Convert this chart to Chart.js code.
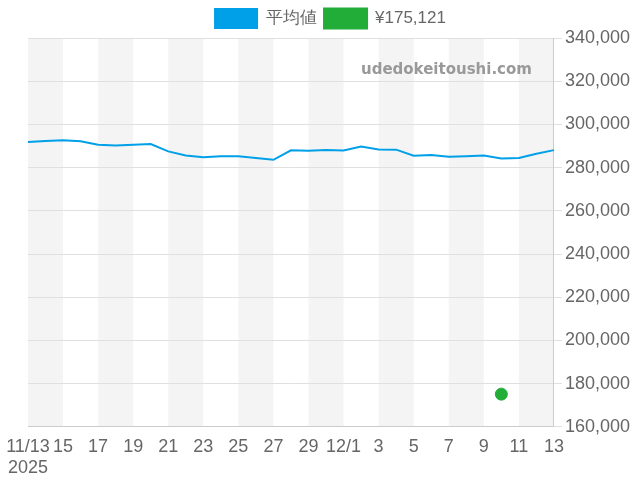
<!DOCTYPE html>
<html>
<head>
<meta charset="utf-8">
<script src="https://cdn.jsdelivr.net/npm/chart.js@4"></script>
<style>body{margin:0;background:#fff}#wrap{width:640px;height:480px}</style>
</head>
<body>
<div id="wrap"><canvas id="c"></canvas></div>
<script>
// ラベル（日付）
const labels = ['11/13','11/14','11/15','11/16','11/17','11/18','11/19','11/20','11/21','11/22','11/23','11/24','11/25','11/26','11/27','11/28','11/29','11/30','12/1','12/2','12/3','12/4','12/5','12/6','12/7','12/8','12/9','12/10','12/11','12/12','12/13'];
const tickLabels = [['11/13','2025'],'15','17','19','21','23','25','27','29','12/1','3','5','7','9','11','13'];
const averageValues = [291900,292300,292700,292200,290600,290200,290600,290900,287500,285600,284800,285300,285200,284400,283600,288000,287800,288100,287900,289800,288400,288300,285500,285800,285000,285300,285600,284200,284500,286400,288100];
const itemValues = [null,null,null,null,null,null,null,null,null,null,null,null,null,null,null,null,null,null,null,null,null,null,null,null,null,null,null,175121,null,null,null];

// 背景の縞模様
const bands = {
  id: 'bands',
  beforeDraw(chart) {
    const {ctx, chartArea, scales} = chart;
    ctx.save();
    ctx.fillStyle = '#f4f4f4';
    for (let i = 0; i < labels.length - 1; i += 4) {
      const x1 = scales.x.getPixelForValue(i);
      const x2 = scales.x.getPixelForValue(Math.min(i + 2, labels.length - 1));
      ctx.fillRect(x1, chartArea.top, x2 - x1, chartArea.bottom - chartArea.top);
    }
    ctx.fillStyle = '#999';
    ctx.font = 'bold 15px "DejaVu Sans"';
    ctx.textAlign = 'right';
    ctx.fillText('udedokeitoushi.com', chartArea.right - 22, chartArea.top + 32);
    ctx.restore();
  }
};

new Chart(document.getElementById('c'), {
  type: 'line',
  data: {
    labels: labels,
    datasets: [
      { label: '平均値', data: averageValues, borderColor: '#00a0e9', backgroundColor: '#00a0e9', borderWidth: 2, pointRadius: 0, tension: 0 },
      { label: '¥175,121', data: itemValues, borderColor: '#22ac38', backgroundColor: '#22ac38', pointRadius: 6, showLine: false }
    ]
  },
  options: {
    animation: false,
    responsive: true,
    maintainAspectRatio: false,
    layout: { padding: { left: 28, right: 7, top: 1, bottom: 0 } },
    plugins: {
      legend: { labels: { boxWidth: 42, boxHeight: 19, font: { size: 17 }, color: '#666', padding: 8 } },
      tooltip: { enabled: false }
    },
    scales: {
      x: {
        grid: { display: false },
        border: { color: '#ccc' },
        ticks: {
          color: '#666', font: { size: 18 }, maxRotation: 0, autoSkip: false, padding: 1,
          callback: (v, i) => i % 2 === 0 ? tickLabels[i / 2] : null
        }
      },
      y: {
        position: 'right', min: 160000, max: 340000,
        grid: { color: '#e0e0e0' },
        border: { color: '#ccc' },
        ticks: { stepSize: 20000, color: '#666', font: { size: 18 }, callback: v => v.toLocaleString('en-US') }
      }
    }
  },
  plugins: [bands]
});
</script>
</body>
</html>
